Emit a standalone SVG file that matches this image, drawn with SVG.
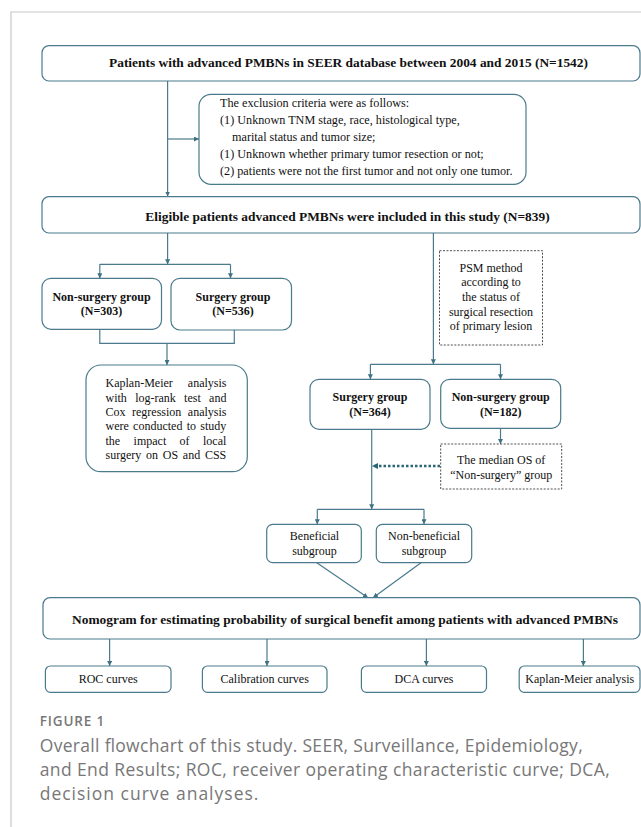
<svg xmlns="http://www.w3.org/2000/svg" width="641" height="827" viewBox="0 0 641 827">
<style>
.box{fill:#fff;stroke:#4a7a8c;stroke-width:1.2}
.dash{fill:#fff;stroke:#3a3a3a;stroke-width:0.9;stroke-dasharray:2 1.5}
.ln{fill:none;stroke:#4a7a8c;stroke-width:1.2}
.dot{fill:none;stroke:#2b6677;stroke-width:2.4;stroke-dasharray:2.5 2}
.t{font-family:"Liberation Serif","Times New Roman",serif;font-size:12px;fill:#111}
.b{font-weight:bold}
.c{text-anchor:middle}
.big{font-size:13.4px}
.ex{font-size:12.2px}
.cap{font-family:"Open Sans","Noto Sans",sans-serif;fill:#777}
</style>
<defs>
<marker id="ah" viewBox="0 0 6 6" markerWidth="5" markerHeight="5" refX="6" refY="3" orient="auto" markerUnits="userSpaceOnUse">
<path d="M0,0 L6,3 L0,6 z" fill="#3f7182"/>
</marker>
<marker id="ah2" viewBox="0 0 6 6" markerWidth="6" markerHeight="6" refX="5" refY="3" orient="auto" markerUnits="userSpaceOnUse">
<path d="M0,0 L6,3 L0,6 z" fill="#2b6677"/>
</marker>
</defs>
<rect width="641" height="827" fill="#fff"/>
<path d="M11,827 V12 H641" fill="none" stroke="#c8c8c8" stroke-width="1.2"/>

<g id="connectors">
<line class="ln" x1="167.6" y1="81" x2="167.6" y2="196.5" marker-end="url(#ah)"/>
<line class="ln" x1="167.6" y1="139" x2="199" y2="139" marker-end="url(#ah)"/>
<line class="ln" x1="167.6" y1="233" x2="167.6" y2="264.3" marker-end="url(#ah)"/>
<line class="ln" x1="99.8" y1="264.3" x2="230.5" y2="264.3"/>
<line class="ln" x1="99.8" y1="264.3" x2="99.8" y2="278.3" marker-end="url(#ah)"/>
<line class="ln" x1="230.5" y1="264.3" x2="230.5" y2="278.3" marker-end="url(#ah)"/>
<path class="ln" d="M99.8,329.3 V343.3 H234.3 V330"/>
<line class="ln" x1="167" y1="343.3" x2="167" y2="365" marker-end="url(#ah)"/>
<line class="ln" x1="433.4" y1="233" x2="433.4" y2="364.3" marker-end="url(#ah)"/>
<line class="ln" x1="370.4" y1="364.3" x2="500.5" y2="364.3"/>
<line class="ln" x1="370.4" y1="364.3" x2="370.4" y2="379.3" marker-end="url(#ah)"/>
<line class="ln" x1="500.5" y1="364.3" x2="500.5" y2="379.3" marker-end="url(#ah)"/>
<line class="ln" x1="371.7" y1="429.3" x2="371.7" y2="509.3" marker-end="url(#ah)"/>
<line class="ln" x1="500.5" y1="428.3" x2="500.5" y2="444" marker-end="url(#ah)"/>
<line class="dot" x1="440" y1="466" x2="373" y2="466" marker-end="url(#ah2)"/>
<line class="ln" x1="317.3" y1="509.3" x2="424" y2="509.3"/>
<line class="ln" x1="317.3" y1="509.3" x2="317.3" y2="524.3" marker-end="url(#ah)"/>
<line class="ln" x1="424" y1="509.3" x2="424" y2="524.3" marker-end="url(#ah)"/>
<line class="ln" x1="316.8" y1="562.7" x2="368" y2="597.7" marker-end="url(#ah)"/>
<line class="ln" x1="421" y1="562.7" x2="373" y2="597.7" marker-end="url(#ah)"/>
<line class="ln" x1="109.6" y1="639" x2="109.6" y2="666" marker-end="url(#ah)"/>
<line class="ln" x1="267" y1="639" x2="267" y2="666" marker-end="url(#ah)"/>
<line class="ln" x1="426.4" y1="639" x2="426.4" y2="666" marker-end="url(#ah)"/>
<line class="ln" x1="583.4" y1="639" x2="583.4" y2="666" marker-end="url(#ah)"/>
</g>

<g id="n-patients">
<rect class="box" x="42" y="45.7" width="598" height="35.3" rx="7"/>
<text class="t b c big" x="348.5" y="67.4">Patients with advanced PMBNs in SEER database between 2004 and 2015 (N=1542)</text>
</g>

<g id="n-exclusion">
<rect class="box" x="199" y="94.3" width="327" height="90" rx="12"/>
<text class="t ex" x="220" y="107">The exclusion criteria were as follows:</text>
<text class="t ex" x="220" y="124">(1) Unknown TNM stage, race, histological type,</text>
<text class="t ex" x="232" y="141">marital status and tumor size;</text>
<text class="t ex" x="220" y="158">(1) Unknown whether primary tumor resection or not;</text>
<text class="t ex" x="220" y="175">(2) patients were not the first tumor and not only one tumor.</text>
</g>

<g id="n-eligible">
<rect class="box" x="42" y="196.7" width="598" height="36.3" rx="7"/>
<text class="t b c big" x="347.5" y="221.1">Eligible patients advanced PMBNs were included in this study (N=839)</text>
</g>

<g id="n-nonsurg-303">
<rect class="box" x="42" y="278.3" width="119.5" height="51" rx="9"/>
<text class="t b c" x="101.5" y="300.7">Non-surgery group</text>
<text class="t b c" x="101.5" y="315">(N=303)</text>
</g>

<g id="n-surg-536">
<rect class="box" x="171" y="278.3" width="120.5" height="51.7" rx="9"/>
<text class="t b c" x="233" y="300.7">Surgery group</text>
<text class="t b c" x="233" y="315">(N=536)</text>
</g>

<g id="n-km">
<rect class="box" x="86" y="365" width="161.3" height="106.7" rx="15"/>
<text class="t" x="105.5" y="387.3" style="word-spacing:12px">Kaplan-Meier analysis</text>
<text class="t" x="105.5" y="401.6" style="word-spacing:5.3px">with log-rank test and</text>
<text class="t" x="105.5" y="415.9" style="word-spacing:3.5px">Cox regression analysis</text>
<text class="t" x="105.5" y="430.2" style="word-spacing:1.3px">were conducted to study</text>
<text class="t" x="105.5" y="444.5" style="word-spacing:10.4px">the impact of local</text>
<text class="t" x="105.5" y="458.8" style="word-spacing:1.75px">surgery on OS and CSS</text>
</g>

<g id="n-psm">
<rect class="dash" x="439.5" y="250.7" width="103" height="94.3"/>
<text class="t c" x="491" y="271.7">PSM method</text>
<text class="t c" x="491" y="286.3">according to</text>
<text class="t c" x="491" y="300.9">the status of</text>
<text class="t c" x="491" y="315.5">surgical resection</text>
<text class="t c" x="491" y="330.1">of primary lesion</text>
</g>

<g id="n-surg-364">
<rect class="box" x="310" y="379.3" width="120" height="50" rx="9"/>
<text class="t b c" x="370" y="401.3">Surgery group</text>
<text class="t b c" x="370" y="416.3">(N=364)</text>
</g>

<g id="n-nonsurg-182">
<rect class="box" x="440.7" y="379.3" width="120" height="49" rx="9"/>
<text class="t b c" x="500.7" y="401.3">Non-surgery group</text>
<text class="t b c" x="500.7" y="416.3">(N=182)</text>
</g>

<g id="n-median">
<rect class="dash" x="440.7" y="444" width="121" height="45"/>
<text class="t c" x="501.2" y="464">The median OS of</text>
<text class="t c" x="501.2" y="479">“Non-surgery” group</text>
</g>

<g id="n-beneficial">
<rect class="box" x="266.7" y="524.3" width="94.6" height="38.4" rx="6"/>
<text class="t c" x="314.5" y="540">Beneficial</text>
<text class="t c" x="314.5" y="555">subgroup</text>
</g>

<g id="n-nonbeneficial">
<rect class="box" x="376.3" y="524.3" width="95.4" height="38.4" rx="6"/>
<text class="t c" x="424" y="540">Non-beneficial</text>
<text class="t c" x="424" y="555">subgroup</text>
</g>

<g id="n-nomogram">
<rect class="box" x="43" y="597.7" width="597" height="41.3" rx="7"/>
<text class="t b c big" x="345" y="624.4">Nomogram for estimating probability of surgical benefit among patients with advanced PMBNs</text>
</g>

<g id="n-roc">
<rect class="box" x="45.4" y="666" width="125.6" height="26.3" rx="5"/>
<text class="t c" x="108.2" y="682.7">ROC curves</text>
</g>
<g id="n-calibration">
<rect class="box" x="202.4" y="666" width="124.6" height="26.3" rx="5"/>
<text class="t c" x="264.7" y="682.7">Calibration curves</text>
</g>
<g id="n-dca">
<rect class="box" x="361.4" y="666" width="125.1" height="26.3" rx="5"/>
<text class="t c" x="424" y="682.7">DCA curves</text>
</g>
<g id="n-kmanalysis">
<rect class="box" x="519.2" y="666" width="120.8" height="26.3" rx="5"/>
<text class="t c" x="579.8" y="682.7">Kaplan-Meier analysis</text>
</g>

<g id="caption">
<text class="cap" x="39.7" y="726" font-size="13.5" font-weight="600" fill="#666" textLength="64.6">FIGURE 1</text>
<text class="cap" x="39.7" y="752" font-size="17.5" textLength="543">Overall flowchart of this study. SEER, Surveillance, Epidemiology,</text>
<text class="cap" x="39.7" y="776" font-size="17.5" textLength="570">and End Results; ROC, receiver operating characteristic curve; DCA,</text>
<text class="cap" x="39.7" y="800" font-size="17.5" textLength="218.7">decision curve analyses.</text>
</g>
</svg>
